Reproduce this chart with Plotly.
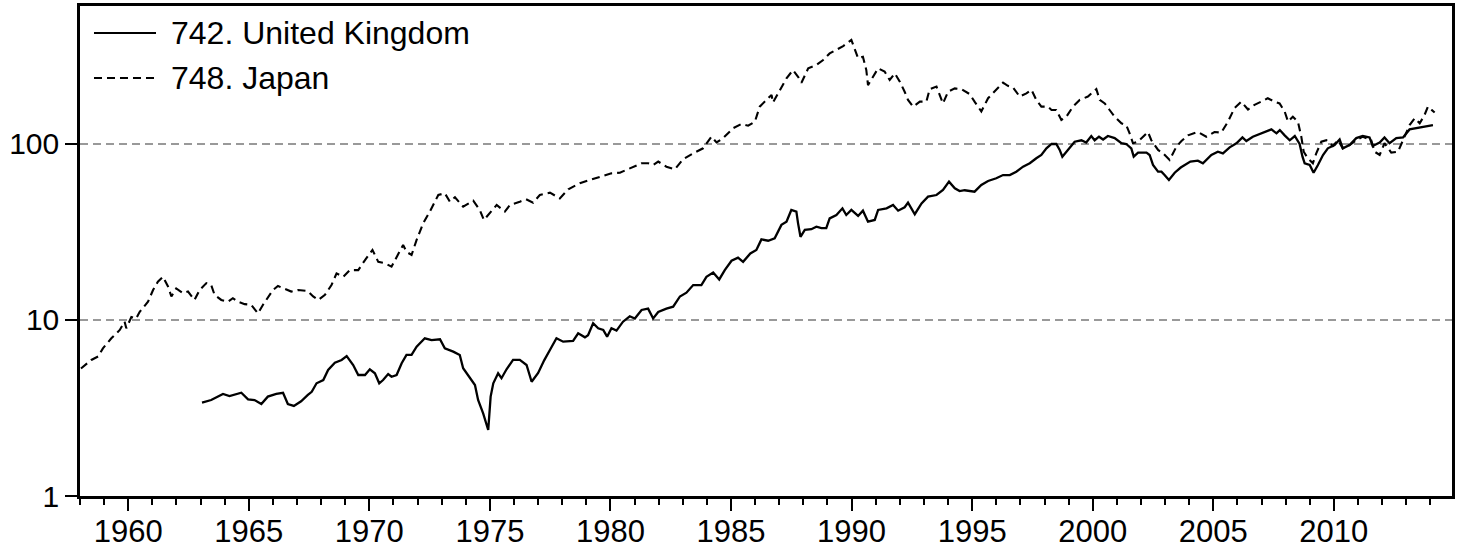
import plotly.graph_objects as go

# Share price indices (log scale), 742. United Kingdom and 748. Japan
jp_year = [1958.04, 1958.47, 1958.75, 1958.95, 1959.30, 1959.65, 1959.85, 1959.92, 1960.13, 1960.33,
           1960.47, 1960.82, 1961.03, 1961.23, 1961.44, 1961.65, 1961.79, 1961.99, 1962.27, 1962.48,
           1962.75, 1962.96, 1963.24, 1963.44, 1963.58, 1963.86, 1964.14, 1964.34, 1964.55, 1964.83,
           1965.10, 1965.38, 1965.59, 1965.79, 1966.00, 1966.21, 1966.49, 1966.76, 1967.04, 1967.45,
           1967.67, 1967.88, 1968.16, 1968.43, 1968.64, 1968.92, 1969.19, 1969.54, 1969.82, 1970.13,
           1970.37, 1970.65, 1970.92, 1971.13, 1971.40, 1971.54, 1971.75, 1971.96, 1972.23, 1972.51,
           1972.86, 1973.13, 1973.34, 1973.55, 1973.89, 1974.31, 1974.58, 1974.75, 1975.00, 1975.28,
           1975.62, 1975.83, 1976.24, 1976.50, 1976.79, 1977.07, 1977.49, 1977.90, 1978.25, 1978.73,
           1979.14, 1979.63, 1980.04, 1980.39, 1980.80, 1981.29, 1981.56, 1981.77, 1981.98, 1982.32,
           1982.67, 1983.01, 1983.43, 1983.84, 1984.19, 1984.40, 1984.67, 1985.09, 1985.43, 1985.71,
           1985.99, 1986.19, 1986.47, 1986.68, 1986.74, 1987.02, 1987.30, 1987.57, 1987.78, 1987.92,
           1988.20, 1988.54, 1988.82, 1989.09, 1989.37, 1989.65, 1989.99, 1990.13, 1990.27, 1990.47,
           1990.61, 1990.68, 1990.89, 1991.10, 1991.37, 1991.58, 1991.79, 1992.00, 1992.20, 1992.34,
           1992.55, 1992.83, 1993.10, 1993.24, 1993.52, 1993.79, 1994.00, 1994.28, 1994.55, 1994.90,
           1995.10, 1995.38, 1995.66, 1995.93, 1996.28, 1996.48, 1996.69, 1996.97, 1997.25, 1997.46,
           1997.66, 1997.87, 1998.14, 1998.29, 1998.49, 1998.70, 1998.91, 1999.18, 1999.46, 1999.80,
           2000.15, 2000.29, 2000.50, 2000.70, 2000.91, 2001.19, 2001.39, 2001.53, 2001.67, 2001.88,
           2002.02, 2002.29, 2002.43, 2002.71, 2002.92, 2003.19, 2003.47, 2003.68, 2003.95, 2004.36,
           2004.71, 2005.05, 2005.33, 2005.61, 2005.88, 2006.16, 2006.44, 2006.71, 2006.99, 2007.26,
           2007.54, 2007.75, 2007.96, 2008.10, 2008.30, 2008.51, 2008.65, 2008.75, 2008.92, 2009.13,
           2009.27, 2009.48, 2009.69, 2009.96, 2010.17, 2010.37, 2010.65, 2010.93, 2011.20, 2011.55,
           2011.69, 2011.90, 2012.10, 2012.38, 2012.66, 2012.87, 2013.14, 2013.35, 2013.56, 2013.76,
           2013.90, 2014.18]
jp_val = [5.3, 5.93, 6.2, 6.9, 7.87, 8.78, 9.78, 8.97, 10.4, 10.2,
          11.1, 12.7, 14.8, 16.5, 17.6, 15.5, 13.6, 15.1, 14.2, 14.5,
          13.0, 14.8, 16.2, 15.8, 13.9, 13.0, 12.7, 13.3, 12.7, 12.3,
          12.2, 10.9, 12.2, 13.3, 14.8, 15.6, 15.1, 14.5, 14.8, 14.6,
          13.6, 13.0, 13.9, 15.8, 18.4, 17.6, 19.2, 19.2, 21.9, 25.0,
          21.4, 21.0, 20.1, 22.9, 26.7, 24.4, 23.4, 28.5, 35.4, 41.3,
          51.3, 52.5, 47.0, 49.8, 44.0, 47.6, 42.2, 37.0, 40.4, 45.0,
          41.3, 45.0, 47.0, 48.5, 46.4, 51.3, 52.9, 49.1, 55.3, 59.8,
          62.4, 65.2, 68.1, 68.7, 72.8, 77.7, 77.7, 76.0, 79.4, 74.3,
          71.8, 81.8, 88.5, 94.5, 110, 102, 108, 123, 130, 127,
          134, 163, 178, 190, 172, 203, 236, 263, 241, 223,
          269, 281, 300, 327, 342, 360, 390, 342, 307, 313,
          263, 216, 241, 269, 258, 231, 252, 226, 198, 178,
          163, 174, 174, 205, 212, 170, 198, 207, 205, 192,
          174, 153, 182, 198, 223, 214, 210, 186, 194, 203,
          178, 163, 163, 156, 156, 137, 143, 163, 178, 186,
          205, 178, 170, 156, 143, 131, 128, 115, 101, 103,
          108, 117, 105, 92.5, 88.5, 81.1, 96.6, 104, 112, 117,
          110, 117, 116, 134, 160, 174, 157, 167, 174, 182,
          174, 170, 153, 134, 143, 134, 110, 90.4, 83, 77.7,
          88.5, 103, 105, 97.5, 105, 94.5, 98.7, 105, 110, 105,
          90.4, 86.6, 101, 89.3, 90.4, 105, 128, 140, 131, 146,
          163, 151]

uk_year = [1963.06, 1963.44, 1963.93, 1964.20, 1964.69, 1964.97, 1965.24, 1965.52, 1965.79, 1966.14,
           1966.42, 1966.62, 1966.87, 1967.17, 1967.45, 1967.61, 1967.81, 1968.09, 1968.29, 1968.57,
           1968.85, 1969.06, 1969.33, 1969.54, 1969.82, 1970.02, 1970.23, 1970.41, 1970.57, 1970.78,
           1970.92, 1971.13, 1971.34, 1971.54, 1971.75, 1971.96, 1972.30, 1972.58, 1972.93, 1973.13,
           1973.48, 1973.75, 1973.89, 1974.17, 1974.38, 1974.51, 1974.72, 1974.93, 1975.03, 1975.14,
           1975.34, 1975.48, 1975.69, 1975.96, 1976.24, 1976.52, 1976.73, 1977.00, 1977.25, 1977.50,
           1977.76, 1978.04, 1978.45, 1978.66, 1978.94, 1979.07, 1979.28, 1979.49, 1979.70, 1979.86,
           1980.04, 1980.25, 1980.52, 1980.80, 1981.01, 1981.29, 1981.56, 1981.77, 1981.98, 1982.32,
           1982.60, 1982.88, 1983.15, 1983.43, 1983.77, 1983.98, 1984.26, 1984.51, 1984.74, 1985.02,
           1985.29, 1985.50, 1985.80, 1986.05, 1986.26, 1986.54, 1986.81, 1987.09, 1987.30, 1987.50,
           1987.71, 1987.78, 1987.88, 1988.06, 1988.33, 1988.54, 1988.75, 1988.95, 1989.09, 1989.37,
           1989.62, 1989.78, 1989.99, 1990.27, 1990.47, 1990.68, 1990.96, 1991.10, 1991.45, 1991.72,
           1991.93, 1992.20, 1992.34, 1992.62, 1992.90, 1993.17, 1993.52, 1993.79, 1994.04, 1994.28,
           1994.48, 1994.69, 1995.10, 1995.38, 1995.66, 1996.00, 1996.28, 1996.56, 1996.83, 1997.11,
           1997.39, 1997.66, 1997.87, 1998.08, 1998.29, 1998.49, 1998.63, 1998.74, 1998.97, 1999.25,
           1999.53, 1999.73, 1999.94, 2000.08, 2000.26, 2000.43, 2000.63, 2000.91, 2001.19, 2001.39,
           2001.60, 2001.70, 2001.88, 2002.23, 2002.36, 2002.50, 2002.71, 2002.85, 2002.98, 2003.16,
           2003.40, 2003.65, 2004.05, 2004.36, 2004.57, 2004.92, 2005.19, 2005.40, 2005.68, 2005.96,
           2006.21, 2006.37, 2006.64, 2006.92, 2007.20, 2007.41, 2007.62, 2007.76, 2007.96, 2008.17,
           2008.38, 2008.58, 2008.70, 2008.79, 2009.00, 2009.16, 2009.34, 2009.55, 2009.75, 2010.03,
           2010.24, 2010.37, 2010.65, 2010.93, 2011.20, 2011.48, 2011.61, 2011.90, 2012.10, 2012.31,
           2012.59, 2012.87, 2013.14, 2013.42, 2013.69, 2014.11]
uk_val = [3.39, 3.51, 3.80, 3.70, 3.86, 3.54, 3.51, 3.33, 3.67, 3.80,
          3.86, 3.33, 3.25, 3.45, 3.75, 3.91, 4.37, 4.56, 5.20, 5.72,
          5.93, 6.24, 5.55, 4.87, 4.87, 5.25, 4.98, 4.37, 4.56, 4.93,
          4.76, 4.87, 5.68, 6.33, 6.33, 7.05, 7.87, 7.69, 7.77, 6.90,
          6.61, 6.33, 5.32, 4.67, 4.27, 3.51, 2.95, 2.37, 3.67, 4.37,
          4.98, 4.67, 5.25, 5.93, 5.93, 5.55, 4.46, 5.0, 5.9, 6.8,
          7.87, 7.53, 7.6, 8.40, 7.97, 8.2, 9.58, 8.97, 8.78, 8.04,
          8.97, 8.70, 9.78, 10.5, 10.2, 11.4, 11.6, 10.2, 11.1, 11.6,
          11.9, 13.6, 14.3, 15.8, 15.8, 17.6, 18.6, 17.0, 19.2, 21.7,
          22.6, 21.4, 23.9, 25.0, 28.7, 28.2, 29.1, 34.7, 36.2, 42.2,
          41.3, 35.4, 29.7, 32.5, 32.8, 33.9, 33.3, 33.3, 37.8, 39.5,
          43.1, 39.5, 42.2, 39.0, 41.8, 36.2, 37.0, 42.2, 43.1, 45.0,
          41.8, 43.7, 46.4, 39.9, 46.0, 50.2, 51.3, 54.8, 61.1, 56.0,
          54.0, 54.6, 53.6, 58.5, 61.6, 63.9, 66.6, 66.6, 69.6, 74.3,
          77.7, 83.0, 86.6, 94.5, 100, 100, 92.5, 84.7, 92.5, 103,
          105, 102, 111, 105, 110, 106, 111, 108, 101, 100,
          94.5, 84.7, 89.3, 89.3, 86.6, 76.0, 69.6, 69.6, 66.6, 62.4,
          68.7, 73.5, 79.4, 80.4, 77.7, 86.6, 90.4, 88.5, 95.7, 101,
          109, 104, 110, 114, 117, 121, 115, 120, 112, 105,
          111, 100, 84.7, 77.7, 76.0, 68.7, 76.0, 86.6, 94.5, 98.7,
          106, 94.5, 98.7, 108, 111, 109, 97.5, 102, 109, 101,
          108, 109, 121, 123, 125, 128]

series_names = ["742. United Kingdom", "748. Japan"]
x_tick_years = [1960, 1965, 1970, 1975, 1980, 1985, 1990, 1995, 2000, 2005, 2010]
y_tick_vals = [1, 10, 100]
y_tick_text = ["1", "10", "100"]

FONT = "Liberation Sans, Arial, sans-serif"
JP_DASH = "8px,5px"

fig = go.Figure()
fig.add_trace(go.Scatter(x=uk_year, y=uk_val, mode="lines", name=series_names[0],
                         line=dict(color="black", width=2.3)))
fig.add_trace(go.Scatter(x=jp_year, y=jp_val, mode="lines", name=series_names[1],
                         line=dict(color="black", width=2.1, dash=JP_DASH)))

# key in the top-left corner: sample line plus label for each series
key_rows = [(0.945, "solid"), (0.853, JP_DASH)]
for (ky, dash), label in zip(key_rows, series_names):
    fig.add_shape(type="line", xref="paper", yref="paper",
                  x0=0.0102, x1=0.0554, y0=ky, y1=ky,
                  line=dict(color="black", width=2, dash=dash))
    fig.add_annotation(x=0.065, y=ky, xref="paper", yref="paper", text=label,
                       showarrow=False, xanchor="left", yanchor="middle",
                       font=dict(family=FONT, size=32, color="black"))

fig.update_layout(
    width=1461, height=552,
    margin=dict(l=80, r=9, t=6, b=56, autoexpand=False),
    paper_bgcolor="white", plot_bgcolor="white",
    showlegend=False,
    font=dict(family=FONT, size=30, color="black"),
)
fig.update_xaxes(
    range=[1958.0, 2014.9], tickvals=x_tick_years, automargin=False,
    showgrid=False, zeroline=False,
    showline=True, linecolor="black", linewidth=2.5, mirror=True,
    ticks="outside", ticklen=12, tickwidth=1.5, tickcolor="black",
    ticklabelstandoff=-6,
    minor=dict(dtick=1, tick0=1958, ticks="outside", ticklen=6, tickwidth=1.5, tickcolor="black"),
    tickfont=dict(family=FONT, size=31, color="black"),
)
fig.update_yaxes(
    type="log", range=[0, 2.784], tickvals=y_tick_vals, ticktext=y_tick_text,
    automargin=False,
    showgrid=True, gridcolor="#999999", gridwidth=1.5, griddash="8px,5px",
    zeroline=False,
    showline=True, linecolor="black", linewidth=2.5, mirror=True,
    ticks="outside", ticklen=12, tickwidth=1.5, tickcolor="black",
    tickfont=dict(family=FONT, size=30, color="black"),
)

fig.write_html("out.html")
